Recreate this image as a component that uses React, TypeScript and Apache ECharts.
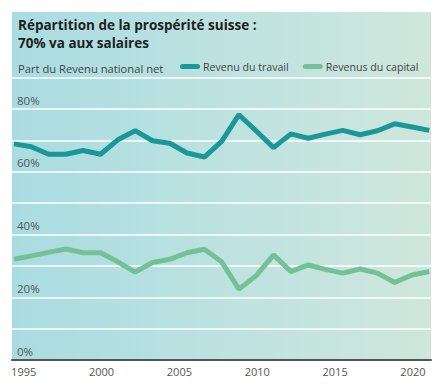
import React, { useEffect, useRef } from "react";
import * as echarts from "echarts";

const years = [1995, 1996, 1997, 1998, 1999, 2000, 2001, 2002, 2003, 2004, 2005, 2006, 2007, 2008, 2009, 2010, 2011, 2012, 2013, 2014, 2015, 2016, 2017, 2018, 2019];
const labour = [68.9, 68.0, 65.6, 65.6, 66.8, 65.6, 70.2, 73.1, 69.9, 69.1, 66.0, 64.7, 69.7, 78.2, 73.0, 67.7, 72.1, 70.7, 72.0, 73.2, 71.8, 73.1, 75.3, 74.3, 73.2];
const capital = [32.1, 33.2, 34.3, 35.4, 34.2, 34.2, 31.3, 28.0, 31.1, 32.1, 34.2, 35.3, 31.3, 22.6, 26.9, 33.5, 28.2, 30.3, 28.9, 27.7, 29.0, 27.7, 24.7, 27.1, 28.2];
const xTickLabels = [1995, 2000, 2005, 2010, 2015, 2020];
const yLabelValues = [0, 20, 40, 60, 80];
const seriesNames = ["Revenu du travail", "Revenus du capital"];
const titleLines = ["Répartition de la prospérité suisse :", "70% va aux salaires"];
const unitLabel = "Part du Revenu national net";

const FONT = "'Open Sans', 'Noto Sans', sans-serif";

export default function App() {
  const ref = useRef<HTMLDivElement>(null);
  useEffect(() => {
    document.body.style.margin = "0";
    const chart = echarts.init(ref.current!, null, { renderer: "svg" });
    const pill = "path://M2.5,0 H17.5 A2.5,2.5 0 0 1 17.5,5 H2.5 A2.5,2.5 0 0 1 2.5,0 Z";
    chart.setOption({
      animation: false,
      textStyle: { fontFamily: FONT },
      graphic: [
        {
          type: "rect",
          z: -10,
          silent: true,
          shape: { x: 12, y: 12, width: 419, height: 348 },
          style: {
            fill: new echarts.graphic.LinearGradient(0, 0, 1, 0, [
              { offset: 0, color: "#a9dce1" },
              { offset: 0.5, color: "#bde2e0" },
              { offset: 1, color: "#cfe7dc" },
            ]),
          },
        },
      ],
      title: [
        {
          text: titleLines.join("\n"),
          left: 18,
          top: 16,
          padding: 0,
          textStyle: { fontFamily: FONT, fontSize: 13.5, fontWeight: 700, color: "#1e1e1e", lineHeight: 18 },
        },
        {
          text: unitLabel,
          left: 18,
          top: 61,
          padding: 0,
          textStyle: { fontFamily: FONT, fontSize: 11.2, fontWeight: 400, color: "#444", lineHeight: 14 },
        },
      ],
      legend: {
        data: seriesNames.map((n) => ({ name: n, icon: pill })),
        left: 180,
        top: 61,
        padding: 0,
        itemWidth: 20,
        itemHeight: 5,
        itemGap: 14,
        textStyle: { fontFamily: FONT, fontSize: 10.6, color: "#444", padding: [0, 0, 0, -2] },
      },
      grid: { left: 12, right: 9, top: 77.7, bottom: 32, containLabel: false },
      xAxis: [
        {
          type: "value",
          min: 1994.249,
          max: 2021.16,
          position: "bottom",
          axisLine: { show: true, lineStyle: { color: "#555", width: 2 } },
          axisTick: { show: false },
          splitLine: { show: false },
          axisLabel: {
            customValues: xTickLabels,
            formatter: (v: number) => String(v),
            color: "#555",
            fontSize: 11,
            fontFamily: FONT,
            margin: 6,
          },
          z: 5,
        },
        {
          type: "value",
          min: 1994.884,
          max: 2019.098,
          position: "bottom",
          show: false,
        },
      ],
      yAxis: {
        type: "value",
        min: 0,
        max: 90,
        interval: 10,
        axisLine: { show: false },
        axisTick: { show: false },
        splitLine: { show: true, lineStyle: { color: "#ffffff", width: 1.5 } },
        axisLabel: {
          inside: true,
          margin: 5,
          verticalAlign: "bottom",
          padding: [0, 0, 3, 0],
          color: "#555",
          fontSize: 11.5,
          fontFamily: FONT,
          formatter: (v: number) => (yLabelValues.includes(v) ? v + "%" : ""),
        },
      },
      series: [
        {
          name: seriesNames[0],
          type: "line",
          xAxisIndex: 1,
          data: years.map((y, i) => [y, labour[i]]),
          showSymbol: false,
          lineStyle: { color: "#1a9898", width: 5 },
          itemStyle: { color: "#1a9898" },
          z: 3,
        },
        {
          name: seriesNames[1],
          type: "line",
          xAxisIndex: 1,
          data: years.map((y, i) => [y, capital[i]]),
          showSymbol: false,
          lineStyle: { color: "#74c197", width: 5 },
          itemStyle: { color: "#74c197" },
          z: 3,
        },
      ],
    });
    return () => chart.dispose();
  }, []);
  return <div ref={ref} style={{ width: 440, height: 392 }} />;
}
